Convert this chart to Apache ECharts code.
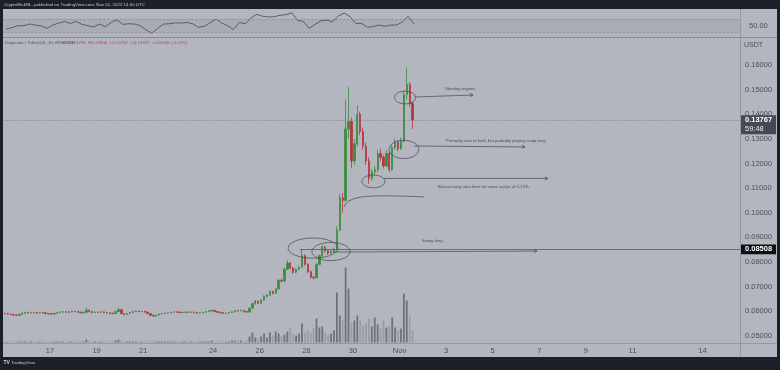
<!DOCTYPE html>
<html><head><meta charset="utf-8">
<script src="https://cdn.jsdelivr.net/npm/echarts@6/dist/echarts.min.js"></script>
<style>html,body{margin:0;padding:0;background:#1c1f27}#c{width:780px;height:370px}</style>
</head><body><div id="c"></div>
<script>
// ---------- DATA ----------
// time unit: days from Oct 17 00:00 UTC; candles are 3h buckets from Oct 15 00:00
const startDay = -2;
const candleStepDays = 0.125;
// [open, close, low, high]
const candles = [
 [0.0591,0.0590,0.0587,0.0593],[0.0590,0.0588,0.0585,0.0592],[0.0588,0.0586,0.0584,0.0590],[0.0586,0.0584,0.0581,0.0588],
 [0.0584,0.0583,0.0580,0.0587],[0.0583,0.0587,0.0581,0.0589],[0.0587,0.0592,0.0585,0.0595],[0.0592,0.0594,0.0590,0.0597],
 [0.0594,0.0593,0.0590,0.0596],[0.0593,0.0595,0.0591,0.0598],[0.0595,0.0594,0.0591,0.0597],[0.0594,0.0592,0.0589,0.0596],
 [0.0592,0.0594,0.0590,0.0596],[0.0594,0.0593,0.0590,0.0596],[0.0593,0.0590,0.0587,0.0595],[0.0590,0.0589,0.0586,0.0592],
 [0.0589,0.0588,0.0585,0.0591],[0.0588,0.0591,0.0586,0.0593],[0.0591,0.0594,0.0589,0.0596],[0.0594,0.0596,0.0592,0.0599],
 [0.0596,0.0597,0.0594,0.0600],[0.0597,0.0595,0.0593,0.0599],[0.0595,0.0597,0.0593,0.0600],[0.0597,0.0599,0.0595,0.0602],
 [0.0599,0.0598,0.0595,0.0601],[0.0598,0.0596,0.0593,0.0600],[0.0596,0.0593,0.0590,0.0598],[0.0593,0.0595,0.0591,0.0597],
 [0.0595,0.0603,0.0593,0.0614],[0.0603,0.0598,0.0595,0.0606],[0.0598,0.0594,0.0591,0.0600],[0.0594,0.0596,0.0592,0.0598],
 [0.0596,0.0595,0.0592,0.0598],[0.0595,0.0597,0.0593,0.0599],[0.0597,0.0594,0.0591,0.0599],[0.0594,0.0593,0.0590,0.0596],
 [0.0593,0.0591,0.0588,0.0595],[0.0591,0.0590,0.0587,0.0593],[0.0590,0.0598,0.0589,0.0601],[0.0598,0.0606,0.0596,0.0612],
 [0.0606,0.0590,0.0587,0.0608],[0.0590,0.0586,0.0583,0.0592],[0.0586,0.0590,0.0584,0.0592],[0.0590,0.0594,0.0588,0.0596],
 [0.0594,0.0598,0.0592,0.0600],[0.0598,0.0600,0.0596,0.0603],[0.0600,0.0598,0.0595,0.0602],[0.0598,0.0599,0.0596,0.0601],
 [0.0599,0.0596,0.0593,0.0601],[0.0596,0.0590,0.0587,0.0598],[0.0590,0.0583,0.0580,0.0592],[0.0583,0.0580,0.0576,0.0585],
 [0.0580,0.0584,0.0578,0.0586],[0.0584,0.0588,0.0582,0.0590],[0.0588,0.0590,0.0586,0.0592],[0.0590,0.0592,0.0588,0.0594],
 [0.0592,0.0593,0.0590,0.0595],[0.0593,0.0595,0.0591,0.0597],[0.0595,0.0597,0.0593,0.0599],[0.0597,0.0596,0.0594,0.0599],
 [0.0596,0.0594,0.0592,0.0598],[0.0594,0.0595,0.0592,0.0597],[0.0595,0.0596,0.0593,0.0598],[0.0596,0.0595,0.0593,0.0598],
 [0.0595,0.0596,0.0593,0.0598],[0.0596,0.0594,0.0591,0.0598],[0.0594,0.0592,0.0589,0.0596],[0.0592,0.0593,0.0590,0.0595],
 [0.0593,0.0595,0.0591,0.0597],[0.0595,0.0598,0.0593,0.0600],[0.0598,0.0601,0.0596,0.0604],[0.0601,0.0603,0.0599,0.0606],
 [0.0603,0.0598,0.0595,0.0605],[0.0598,0.0595,0.0592,0.0600],[0.0595,0.0593,0.0590,0.0597],[0.0593,0.0591,0.0588,0.0595],
 [0.0591,0.0592,0.0589,0.0594],[0.0592,0.0594,0.0590,0.0596],[0.0594,0.0597,0.0592,0.0599],[0.0597,0.0602,0.0595,0.0604],
 [0.0602,0.0601,0.0598,0.0605],[0.0601,0.0603,0.0599,0.0606],[0.0603,0.0598,0.0595,0.0605],[0.0598,0.0596,0.0593,0.0600],
 [0.0596,0.0612,0.0594,0.0615],[0.0612,0.0630,0.0610,0.0634],[0.0630,0.0640,0.0627,0.0645],[0.0640,0.0632,0.0628,0.0643],
 [0.0632,0.0645,0.0630,0.0648],[0.0645,0.0660,0.0642,0.0664],[0.0660,0.0665,0.0656,0.0669],[0.0665,0.0680,0.0662,0.0684],
 [0.0680,0.0672,0.0668,0.0683],[0.0672,0.0690,0.0670,0.0694],[0.0690,0.0725,0.0688,0.0730],[0.0725,0.0722,0.0716,0.0732],
 [0.0722,0.0770,0.0720,0.0776],[0.0770,0.0795,0.0766,0.0808],[0.0795,0.0775,0.0770,0.0799],[0.0775,0.0758,0.0752,0.0779],
 [0.0758,0.0770,0.0754,0.0774],[0.0770,0.0778,0.0765,0.0782],[0.0778,0.0825,0.0776,0.0850],[0.0825,0.0790,0.0785,0.0830],
 [0.0790,0.0760,0.0755,0.0794],[0.0760,0.0738,0.0732,0.0764],[0.0738,0.0735,0.0728,0.0742],[0.0735,0.0790,0.0733,0.0795],
 [0.0790,0.0825,0.0786,0.0830],[0.0825,0.0860,0.0820,0.0868],[0.0860,0.0845,0.0838,0.0864],[0.0845,0.0835,0.0828,0.0850],
 [0.0835,0.0842,0.0830,0.0848],[0.0842,0.0850,0.0836,0.0858],[0.0850,0.0930,0.0846,0.0945],[0.0930,0.1060,0.0925,0.1075],
 [0.1060,0.1050,0.1000,0.1080],[0.1050,0.1340,0.1045,0.1460],[0.1340,0.1370,0.1300,0.1510],[0.1370,0.1210,0.1180,0.1385],
 [0.1210,0.1280,0.1195,0.1300],[0.1280,0.1400,0.1270,0.1435],[0.1400,0.1330,0.1315,0.1410],[0.1330,0.1270,0.1255,0.1345],
 [0.1270,0.1210,0.1195,0.1285],[0.1210,0.1140,0.1118,0.1225],[0.1140,0.1165,0.1130,0.1178],[0.1165,0.1175,0.1150,0.1190],
 [0.1175,0.1240,0.1165,0.1255],[0.1240,0.1225,0.1210,0.1260],[0.1225,0.1190,0.1180,0.1235],[0.1190,0.1240,0.1185,0.1255],
 [0.1240,0.1175,0.1165,0.1248],[0.1175,0.1265,0.1170,0.1275],[0.1265,0.1285,0.1255,0.1300],[0.1285,0.1260,0.1250,0.1295],
 [0.1260,0.1290,0.1255,0.1305],[0.1290,0.1480,0.1285,0.1495],[0.1480,0.1520,0.1460,0.1590],[0.1520,0.1445,0.1430,0.1530],
 [0.1445,0.13767,0.1340,0.1450]
];
// volume (relative units) per 3h bucket
const volumes = [
 1,1,1,1,1,1,1,1, 1,1,1,1,1,1,1,1, 1,1,1,1,1,1,1,1, 1,1,1,1,3,2,1,1,
 1,1,1,1,1,1,2,3, 2,1,1,1,1,1,1,1, 1,1,2,2,1,1,1,1, 1,1,1,1,1,1,1,1,
 1,1,1,1,1,1,1,2, 1,1,1,1,1,1,2,2, 2,2,1,2,6,10,5,4,
 6,9,5,10,7,11,9,6, 8,11,15,8,7,9,19,10, 12,9,14,24,15,16,10,8,
 9,12,50,27,22,75,54,20, 22,27,22,17,19,24,16,25, 18,14,22,15,17,25,15,12,
 14,49,42,27,12
];
// RSI sampled every 6h from Oct 15 00:00
const rsiStepDays = 0.25;
const rsiValues = [40,44,50,50,55,52,49,42,52,58, 63,57,63,54,50,46,55,47,60,68,
 54,56,55,50,37,27,42,55,56,59, 58,60,56,45,48,59,70,58,50,38,
 60,56,74,85,79,77,78,82,84,90, 66,63,42,54,65,67,62,80,89,78,
 57,57,45,47,52,48,52,52,62,79, 55];
const timeTickDays   = [0,2,4,7,9,11,13,15,17,19,21,23,25,28];
const timeTickLabels = ['17','19','21','24','26','28','30','Nov','3','5','7','9','11','14'];
const lastPrice = 0.13767;
const lastCountdown = '59:48';
const levelPrice = 0.08508;
const levelStartDay = 10.73;

// ---------- CHART ----------
const chart = echarts.init(document.getElementById('c'));
const X0 = -2, X1 = 29.614;
const up = '#3c8c40', down = '#b3373a';
const volUp = '#6f727c', volDown = '#9a9da6';
const axisText = '#4b4e58';
const ink = '#43464f';

const candleData = candles.map((k,i)=>[startDay+(i+0.5)*candleStepDays,k[0],k[1],k[2],k[3]]);
const volumeData = volumes.map((v,i)=>({value:[startDay+(i+0.5)*candleStepDays,v],
  itemStyle:{color:candles[i][1]>=candles[i][0]?volUp:volDown}}));
const rsiData = rsiValues.map((v,k)=>[startDay+(k+0.5)*rsiStepDays,v]);

const G = {left:3.4,right:40};
const option = {
  backgroundColor:'#1c1f27',
  animation:false,
  textStyle:{fontFamily:'Liberation Sans'},
  grid:[
    {left:G.left,right:G.right,top:40.4,bottom:34.3},
    {left:G.left,right:G.right,bottom:27.5,height:100},
    {left:G.left,right:G.right,top:9.5,height:27.5}
  ],
  xAxis:[
    {gridIndex:0,type:'value',min:X0,max:X1,show:false},
    {gridIndex:1,type:'value',min:X0,max:X1,interval:1,
     axisLine:{show:false},axisTick:{show:false},splitLine:{show:false},
     axisLabel:{color:axisText,fontSize:7.5,margin:4,showMinLabel:true,showMaxLabel:true,hideOverlap:false,
       formatter:v=>{const k=timeTickDays.indexOf(Math.round(v));return (k>=0&&Math.abs(v-Math.round(v))<1e-6)?timeTickLabels[k]:'';}}},
    {gridIndex:2,type:'value',min:X0,max:X1,show:false}
  ],
  yAxis:[
    {gridIndex:0,type:'value',position:'right',min:0.05,max:0.17,interval:0.01,
     axisLine:{show:false},axisTick:{show:false},splitLine:{show:false},
     axisLabel:{color:axisText,fontSize:7.5,margin:5,formatter:v=>v>0.1695?'':v.toFixed(5)}},
    {gridIndex:1,type:'value',min:0,max:100,show:false},
    {gridIndex:2,type:'value',position:'right',min:15,max:100,interval:5,
     axisLine:{show:false},axisTick:{show:false},splitLine:{show:false},
     axisLabel:{color:axisText,fontSize:7.5,margin:9,formatter:v=>Math.abs(v-50)<1e-6?'50.00':''}}
  ],
  series:[
    {type:'bar',xAxisIndex:1,yAxisIndex:1,data:volumeData,barWidth:1.8,silent:true,z:1},
    {type:'candlestick',xAxisIndex:0,yAxisIndex:0,data:candleData,encode:{x:0,y:[1,2,3,4]},
     barWidth:1.8,silent:true,z:3,
     itemStyle:{color:up,color0:down,borderColor:up,borderColor0:down,borderWidth:0.8},
     markLine:{symbol:['none','none'],silent:true,label:{show:false},
      data:[
       [{coord:[X0,lastPrice],lineStyle:{type:[1,2],color:'#6b6e78',width:0.8}},{coord:[X1,lastPrice]}],
       [{coord:[levelStartDay,levelPrice],lineStyle:{type:'solid',color:'#5a5d66',width:0.8}},{coord:[X1,levelPrice]}]
      ]}},
    {type:'line',xAxisIndex:2,yAxisIndex:2,data:rsiData,showSymbol:false,silent:true,
     lineStyle:{color:'#464952',width:0.8},
     markLine:{symbol:['none','none'],silent:true,label:{show:false},
       lineStyle:{type:[2,2],color:'#7e818a',width:0.7},data:[{yAxis:70},{yAxis:30}]},
     markArea:{silent:true,itemStyle:{color:'rgba(60,65,80,0.08)'},data:[[{yAxis:70},{yAxis:30}]]}}
  ],
  graphic:[
    {id:'bg',type:'rect',z:-10,silent:true,shape:{x:3,y:9,width:774,height:348},style:{fill:'#b3b6be'}},
    {id:'sepV',type:'line',z:5,silent:true,shape:{x1:740.5,y1:9,x2:740.5,y2:357},style:{stroke:'#8d9099',lineWidth:0.8}},
    {id:'sepR',type:'line',z:5,silent:true,shape:{x1:3,y1:37.5,x2:777,y2:37.5},style:{stroke:'#878a93',lineWidth:1.2}},
    {id:'sepT',type:'line',z:5,silent:true,shape:{x1:3,y1:343.5,x2:777,y2:343.5},style:{stroke:'#8d9099',lineWidth:0.8}},
    {id:'hdr',type:'text',z:5,x:4,y:4.8,style:{text:'CryptoMichNL, published on TradingView.com, Nov 01, 2022 14:00 UTC',fill:'#c6c8cf',font:'4.4px Liberation Sans',textVerticalAlign:'middle'}},
    {id:'lg1',type:'text',z:5,x:5,y:42.3,style:{text:'Dogecoin / TetherUS, 1h, BINANCE',fill:'#50535d',font:'4.4px Liberation Sans',textVerticalAlign:'middle'}},
    {id:'lg2',type:'text',z:5,x:66.5,y:42.3,style:{text:'O0.13796  H0.13800  L0.13767  C0.13767  -0.00030 (-0.22%)',fill:'#b3444a',font:'4.4px Liberation Sans',textVerticalAlign:'middle'}},
    {id:'usdt',type:'text',z:5,x:744,y:45,style:{text:'USDT',fill:axisText,font:'7px Liberation Sans',textVerticalAlign:'middle'}},
    {id:'tv1',type:'text',z:5,x:3.5,y:363,style:{text:'TV',fill:'#d0d2d8',font:'bold 5px Liberation Sans',textVerticalAlign:'middle'}},
    {id:'tv2',type:'text',z:5,x:11,y:363,style:{text:'TradingView',fill:'#c6c8cf',font:'4.4px Liberation Sans',textVerticalAlign:'middle'}}
  ]
};
chart.setOption(option);

// ---------- ANNOTATIONS (anchored in data space: [day, price]) ----------
const ellipses = [
  {d:11.29,p:0.0856,rd:1.07,rp:0.0041},
  {d:12.06,p:0.0842,rd:0.82,rp:0.0037},
  {d:13.88,p:0.1127,rd:0.49,rp:0.0026},
  {d:15.19,p:0.1257,rd:0.64,rp:0.0037},
  {d:15.24,p:0.1468,rd:0.45,rp:0.0026}
];
const arrows = [
  {a:[15.67,0.1470],b:[18.15,0.1478]},
  {a:[15.62,0.1271],b:[20.39,0.1267]},
  {a:[14.33,0.1139],b:[21.37,0.1139]},
  {a:[12.15,0.0840],b:[20.90,0.0844]}
];
const notes = [
  {d:16.95,p:0.1502,t:'Shorting regions.'},
  {d:17.00,p:0.1291,t:'Primarily area to hold, but probably playing scalp long.'},
  {d:16.65,p:0.1104,t:'Bounce long area here for some scalps of 5-15%.'},
  {d:15.97,p:0.0885,t:'Swing long.'}
];
const curve = {s:[12.62,0.1023],c1:[12.80,0.1075],c2:[13.90,0.1072],e:[16.05,0.1064]};

const px = (d,p)=>chart.convertToPixel({gridIndex:0},[d,p]);
const g = [];
ellipses.forEach((e,i)=>{
  const c=px(e.d,e.p), r1=px(e.d+e.rd,e.p), r2=px(e.d,e.p+e.rp);
  g.push({id:'el'+i,type:'ellipse',z:50,silent:true,
    shape:{cx:c[0],cy:c[1],rx:Math.abs(r1[0]-c[0]),ry:Math.abs(r2[1]-c[1])},
    style:{fill:'none',stroke:ink,lineWidth:0.7}});
});
arrows.forEach((a,i)=>{
  const p1=px(a.a[0],a.a[1]), p2=px(a.b[0],a.b[1]);
  g.push({id:'ar'+i,type:'line',z:50,silent:true,shape:{x1:p1[0],y1:p1[1],x2:p2[0],y2:p2[1]},style:{stroke:ink,lineWidth:0.7}});
  g.push({id:'ah'+i,type:'polyline',z:50,silent:true,shape:{points:[[p2[0]-3,p2[1]-1.6],[p2[0],p2[1]],[p2[0]-3,p2[1]+1.6]]},style:{stroke:ink,lineWidth:0.7,fill:'none'}});
});
notes.forEach((n,i)=>{
  const p=px(n.d,n.p);
  g.push({id:'nt'+i,type:'text',z:50,silent:true,x:p[0],y:p[1],style:{text:n.t,fill:'#4a4d56',font:'4.2px Liberation Sans',textVerticalAlign:'middle'}});
});
{
  const s=px(...curve.s), c1=px(...curve.c1), c2=px(...curve.c2), e=px(...curve.e);
  g.push({id:'cv',type:'bezierCurve',z:50,silent:true,shape:{x1:s[0],y1:s[1],cpx1:c1[0],cpy1:c1[1],cpx2:c2[0],cpy2:c2[1],x2:e[0],y2:e[1]},style:{stroke:ink,lineWidth:0.7,fill:'none'}});
}
// price labels on the axis
{
  const yl=px(X1,lastPrice)[1];
  g.push({id:'lpBox',type:'rect',z:80,silent:true,shape:{x:741,y:yl-4.8,width:35,height:19},style:{fill:'#454954'}});
  g.push({id:'lpT',type:'text',z:81,silent:true,x:745,y:yl+0.2,style:{text:lastPrice.toFixed(5),fill:'#ffffff',font:'bold 7.5px Liberation Sans',textVerticalAlign:'middle'}});
  g.push({id:'lpC',type:'text',z:81,silent:true,x:745,y:yl+9,style:{text:lastCountdown,fill:'#e8e9ed',font:'7.5px Liberation Sans',textVerticalAlign:'middle'}});
  const y2=px(X1,levelPrice)[1];
  g.push({id:'lvBox',type:'rect',z:80,silent:true,shape:{x:741,y:y2-4.8,width:35,height:9.6},style:{fill:'#0d0f14'}});
  g.push({id:'lvT',type:'text',z:81,silent:true,x:745,y:y2,style:{text:levelPrice.toFixed(5),fill:'#ffffff',font:'bold 7.5px Liberation Sans',textVerticalAlign:'middle'}});
}
chart.setOption({graphic:g});
</script></body></html>
